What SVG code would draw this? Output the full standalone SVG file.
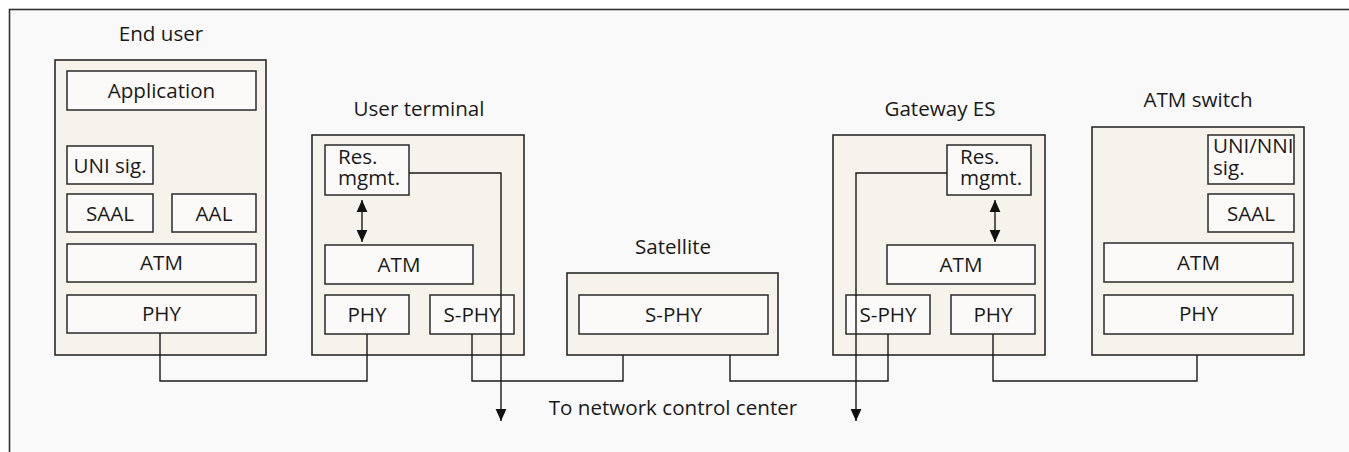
<svg xmlns="http://www.w3.org/2000/svg" width="1349" height="452" viewBox="0 0 1349 452">
<defs>
<marker id="ah" markerUnits="userSpaceOnUse" markerWidth="12" markerHeight="12" refX="10" refY="5" orient="auto-start-reverse" viewBox="0 0 10 10">
<path d="M0,0.5 L10,5 L0,9.5 Z" fill="#111"/>
</marker>
<style>
.node{fill:#f6f2ec;stroke:#2a2a2a;stroke-width:1.6}
.layer{fill:#fcfaf8;stroke:#2a2a2a;stroke-width:1.5}
.t{font-family:"Open Sans","Noto Sans",sans-serif;font-size:20.6px;fill:#1a1a1a}
.c{text-anchor:middle}
.ln{fill:none;stroke:#1a1a1a;stroke-width:1.4}
</style>
</defs>
<rect x="0" y="0" width="1349" height="452" fill="#ffffff"/>
<rect x="9.5" y="9.5" width="1360" height="460" fill="#f9f9f9" stroke="#333" stroke-width="1.6"/>

<g id="end-user">
<text class="t c" x="161" y="41">End user</text>
<rect class="node" x="55" y="60" width="211" height="295"/>
<rect class="layer" x="67" y="71" width="189" height="39"/>
<text class="t c" x="161.5" y="98">Application</text>
<rect class="layer" x="67" y="146" width="86" height="38"/>
<text class="t c" x="110" y="173">UNI sig.</text>
<rect class="layer" x="67" y="194" width="86" height="38"/>
<text class="t c" x="110" y="221">SAAL</text>
<rect class="layer" x="172" y="194" width="84" height="38"/>
<text class="t c" x="214" y="221">AAL</text>
<rect class="layer" x="67" y="244" width="189" height="38"/>
<text class="t c" x="161.5" y="270">ATM</text>
<rect class="layer" x="67" y="295" width="189" height="38"/>
<text class="t c" x="161.5" y="321">PHY</text>
</g>

<g id="user-terminal">
<text class="t c" x="419" y="116">User terminal</text>
<rect class="node" x="312" y="135" width="212" height="220"/>
<rect class="layer" x="325" y="145" width="84" height="50"/>
<text class="t" x="338" y="164">Res.<tspan x="338" y="185">mgmt.</tspan></text>
<rect class="layer" x="325" y="245" width="148" height="39"/>
<text class="t c" x="399" y="272">ATM</text>
<rect class="layer" x="325" y="295" width="84" height="39"/>
<text class="t c" x="367" y="322">PHY</text>
<rect class="layer" x="430" y="295" width="84" height="39"/>
<text class="t c" x="472" y="322">S-PHY</text>
</g>

<g id="satellite">
<text class="t c" x="673" y="254">Satellite</text>
<rect class="node" x="567" y="273" width="211" height="82"/>
<rect class="layer" x="579" y="295" width="189" height="39"/>
<text class="t c" x="673.5" y="322">S-PHY</text>
</g>

<g id="gateway-es">
<text class="t c" x="940" y="116">Gateway ES</text>
<rect class="node" x="833" y="135" width="212" height="220"/>
<rect class="layer" x="947" y="145" width="84" height="50"/>
<text class="t" x="960" y="164">Res.<tspan x="960" y="185">mgmt.</tspan></text>
<rect class="layer" x="887" y="245" width="148" height="39"/>
<text class="t c" x="961" y="272">ATM</text>
<rect class="layer" x="846" y="295" width="84" height="39"/>
<text class="t c" x="888" y="322">S-PHY</text>
<rect class="layer" x="951" y="295" width="84" height="39"/>
<text class="t c" x="993" y="322">PHY</text>
</g>

<g id="atm-switch">
<text class="t c" x="1198" y="107">ATM switch</text>
<rect class="node" x="1092" y="127" width="212" height="228"/>
<rect class="layer" x="1208" y="135" width="86" height="49"/>
<text class="t" x="1213" y="153">UNI/NNI<tspan x="1213" y="175">sig.</tspan></text>
<rect class="layer" x="1208" y="194" width="86" height="38"/>
<text class="t c" x="1251" y="221">SAAL</text>
<rect class="layer" x="1104" y="243" width="189" height="39"/>
<text class="t c" x="1198.5" y="270">ATM</text>
<rect class="layer" x="1104" y="295" width="189" height="39"/>
<text class="t c" x="1198.5" y="321">PHY</text>
</g>

<g id="connectors">
<polyline class="ln" points="160,333 160,381 367,381 367,334"/>
<polyline class="ln" points="472,334 472,381 623,381 623,355"/>
<polyline class="ln" points="730,355 730,381 888,381 888,334"/>
<polyline class="ln" points="993,334 993,381 1197,381 1197,355"/>
<polyline class="ln" points="409,173 501,173 501,421" marker-end="url(#ah)"/>
<polyline class="ln" points="947,173 856,173 856,421" marker-end="url(#ah)"/>
<line class="ln" x1="362" y1="200" x2="362" y2="242" marker-start="url(#ah)" marker-end="url(#ah)"/>
<line class="ln" x1="995" y1="200" x2="995" y2="242" marker-start="url(#ah)" marker-end="url(#ah)"/>
</g>

<text class="t c" x="673" y="415">To network control center</text>
</svg>
